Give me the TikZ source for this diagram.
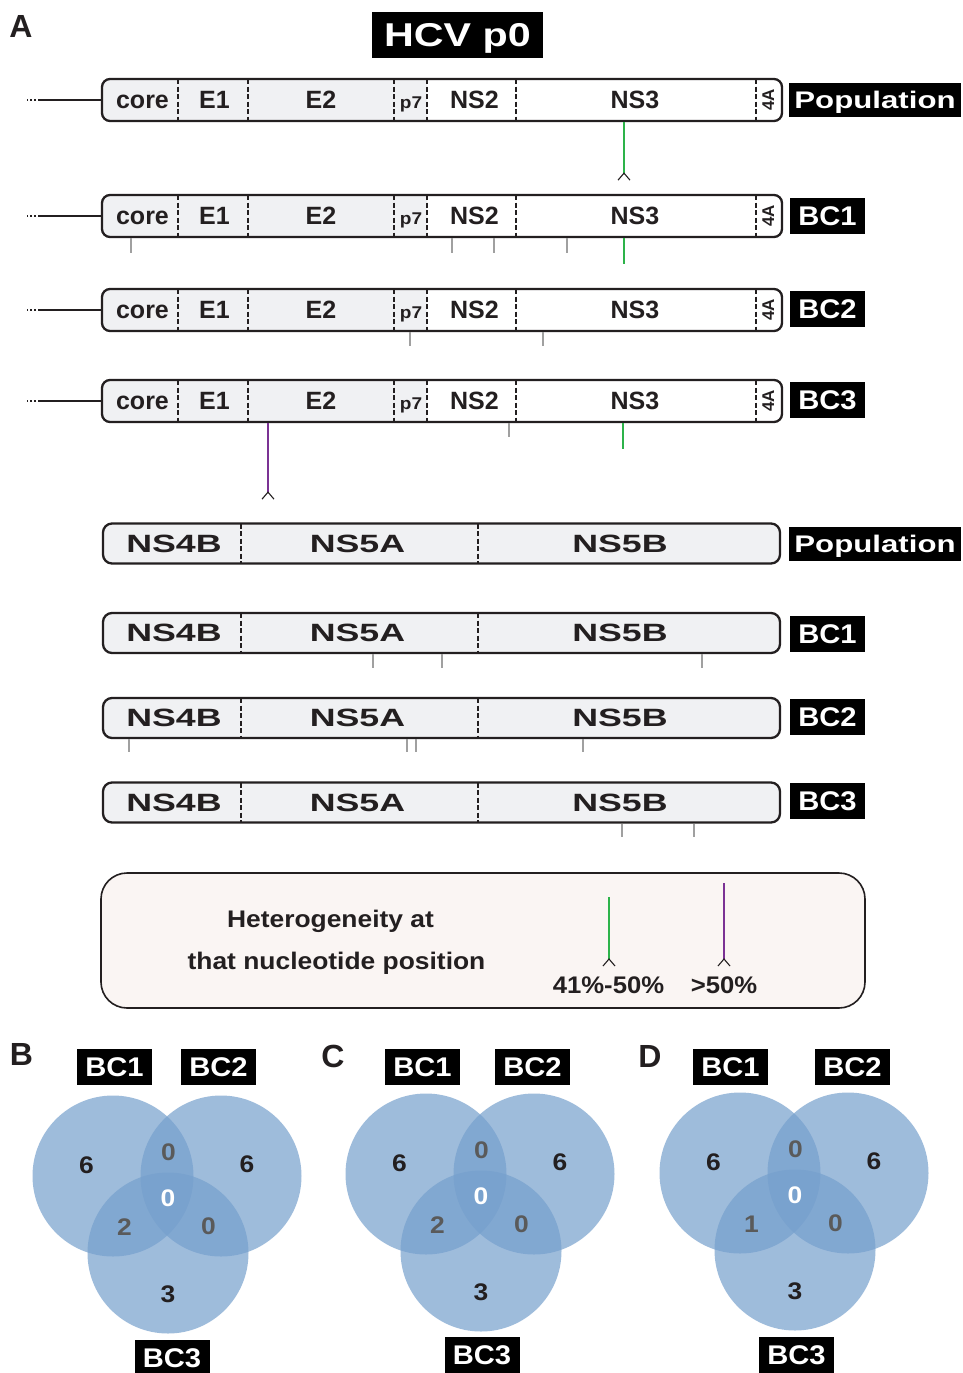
\documentclass[tikz,border=0pt]{standalone}
\usepackage{fontspec}
\setmainfont{Liberation Sans}
\usepackage{graphicx}

\definecolor{ink}{HTML}{231F20}
\definecolor{barfill}{HTML}{F0F1F3}
\definecolor{legfill}{HTML}{FAF5F3}
\definecolor{tickgray}{HTML}{A0A0A0}
\definecolor{hetgreen}{HTML}{2DB34A}
\definecolor{hetpurple}{HTML}{7B3294}
\definecolor{vennblue}{RGB}{118,160,205}
\definecolor{pairgray}{HTML}{5A5A5A}

% bold text at a given size, and horizontal stretch
\newcommand{\fs}[1]{\fontsize{#1pt}{#1pt}\selectfont\bfseries}
\newcommand{\hs}[2]{\scalebox{#1}[1]{#2}}

% a short mark hanging below a bar: bar, x, length, style, end name
\newcommand{\snv}[5]{%
  \coordinate (#5-x) at (#2,0);
  \draw[#4] (#1.south -| #5-x) -- ++(0,#3) coordinate (#5);}
% the small open chevron at the end of a long mark
\newcommand{\chevron}[1]{\draw[chev] (#1) ++(-6,7) -- (#1) -- ++(6,7);}

% genome bar, structural part (core ... 4A)
\newcommand{\toprow}[2]{%
  \fill[white, rounded corners=8pt] (102,#2-21) rectangle (782,#2+21);
  \begin{scope}
    \clip (98,#2-25) rectangle (427,#2+25);
    \fill[barfill, rounded corners=8pt] (102,#2-21) rectangle (782,#2+21);
  \end{scope}
  \foreach \dx in {178,248,394,427,516,756}
    \draw[divider] (\dx,#2-21) -- (\dx,#2+21);
  \node[bar, minimum width=680pt, minimum height=42pt] (#1) at (442,#2) {};
  \coordinate (#1-a) at (40,#2);
  \coordinate (#1-b) at (27,#2);
  \draw[lead] (#1.west) -- (#1-a);
  \draw[leaddots] (#1-a) -- (#1-b);
  \node[t25] (#1-core) at (142.5,#2) {core};
  \node[t25] (#1-e1) at (214.5,#2) {E1};
  \node[t25] (#1-e2) at (321,#2) {E2};
  \node[t17] (#1-p7) at (411,#2+2) {\hs{1.12}{p7}};
  \node[t25] (#1-ns2) at (474.5,#2) {NS2};
  \node[t25] (#1-ns3) at (635,#2) {NS3};
  \node[t17, rotate=90] (#1-4a) at (768,#2) {4A};}

% genome bar, non-structural part (NS4B ... NS5B)
\newcommand{\botrow}[2]{%
  \node[bar, fill=barfill, rounded corners=9pt, minimum width=677pt, minimum height=40pt] (#1) at (441.5,#2) {};
  \foreach \dx in {241,478}
    \draw[divider] (\dx,#2-20) -- (\dx,#2+20);
  \node[t25] (#1-4b) at (174,#2) {\hs{1.43}{NS4B}};
  \node[t25] (#1-5a) at (357.5,#2) {\hs{1.43}{NS5A}};
  \node[t25] (#1-5b) at (620,#2) {\hs{1.43}{NS5B}};}

% three-set Venn diagram: prefix, shift x, shift y, BC1/BC3 overlap
\newcommand{\venn}[4]{%
  \begin{scope}[shift={(#2,#3)}]
    \node[vcirc] (#1-c1) at (113,1176) {};
    \node[vcirc] (#1-c2) at (221,1176) {};
    \node[vcirc] (#1-c3) at (168,1253) {};
    \node[t24] (#1-n1) at (86.5,1165) {\hs{1.1}{6}};
    \node[t24, text=pairgray] (#1-n12) at (168.5,1151.5) {\hs{1.1}{0}};
    \node[t24] (#1-n2) at (247,1164) {\hs{1.1}{6}};
    \node[t24, text=white] (#1-n123) at (168,1198) {\hs{1.1}{0}};
    \node[t24, text=pairgray] (#1-n13) at (124.5,1226.5) {\hs{1.1}{#4}};
    \node[t24, text=pairgray] (#1-n23) at (208.5,1225.5) {\hs{1.1}{0}};
    \node[t24] (#1-n3) at (168,1293.5) {\hs{1.1}{3}};
  \end{scope}}

\begin{document}
\begin{tikzpicture}[x=1pt, y=-1pt,
  txtbase/.style={inner sep=0pt, outer sep=0pt, text depth=0pt, text=ink},
  t15/.style={txtbase, font=\fs{15}, text height=10.7pt},
  t17/.style={txtbase, font=\fs{17}, text height=12.2pt},
  t24/.style={txtbase, font=\fs{24}, text height=17.2pt},
  t25/.style={txtbase, font=\fs{25}, text height=17.9pt},
  t32/.style={txtbase, font=\fs{32}, text height=22.9pt},
  tag/.style={fill=black, text=white, inner sep=0pt, text depth=0pt,
    text height=19.3pt, font=\fs{27}, minimum width=75pt, minimum height=36pt},
  poptag/.style={tag, font=\fs{24}, text height=17.2pt, minimum width=172pt, minimum height=34pt},
  bar/.style={draw=ink, line width=2.3pt, rounded corners=8pt, inner sep=0pt},
  divider/.style={draw=ink, line width=1.8pt, dash pattern=on 5pt off 2.5pt},
  lead/.style={draw=ink, line width=2.5pt},
  leaddots/.style={draw=ink, line width=2.5pt, dash pattern=on 2pt off 2pt},
  snvtick/.style={draw=tickgray, line width=2.8pt},
  hgline/.style={draw=hetgreen, line width=2.5pt},
  hpline/.style={draw=hetpurple, line width=2.5pt},
  chev/.style={draw=ink, line width=1.1pt},
  vcirc/.style={circle, fill=vennblue, fill opacity=0.7, minimum size=161pt, inner sep=0pt},
]
\fill[white] (0,0) rectangle (962,1373);
\useasboundingbox (0,0) rectangle (962,1373);

% ---------- panel A ----------
\node[t32] (pA) at (21,26) {A};
\node[tag, font=\fs{33}, text height=23.6pt, minimum width=171pt, minimum height=46pt] (title) at (457.5,35) {\hs{1.25}{HCV p0}};

\toprow{r0}{100}
\toprow{r1}{216}
\toprow{r2}{310}
\toprow{r3}{401}

\node[poptag] (r0-tag) at (875,100) {\hs{1.3}{Population}};
\node[tag] (r1-tag) at (827.5,216) {\hs{1.08}{BC1}};
\node[tag] (r2-tag) at (827.5,309) {\hs{1.08}{BC2}};
\node[tag] (r3-tag) at (827.5,400) {\hs{1.08}{BC3}};

\snv{r0}{624}{51}{hgline}{r0m1}
\chevron{r0m1}

\snv{r1}{131}{15}{snvtick}{r1m1}
\snv{r1}{452}{15}{snvtick}{r1m2}
\snv{r1}{494}{15}{snvtick}{r1m3}
\snv{r1}{567}{15}{snvtick}{r1m4}
\snv{r1}{624}{26}{hgline}{r1m5}

\snv{r2}{410}{14}{snvtick}{r2m1}
\snv{r2}{543}{14}{snvtick}{r2m2}

\snv{r3}{268}{69}{hpline}{r3m1}
\chevron{r3m1}
\snv{r3}{509}{14}{snvtick}{r3m2}
\snv{r3}{623}{26}{hgline}{r3m3}

\botrow{b0}{543.5}
\botrow{b1}{633}
\botrow{b2}{718}
\botrow{b3}{802.5}

\node[poptag] (b0-tag) at (875,544) {\hs{1.3}{Population}};
\node[tag] (b1-tag) at (827.5,634) {\hs{1.08}{BC1}};
\node[tag] (b2-tag) at (827.5,717) {\hs{1.08}{BC2}};
\node[tag] (b3-tag) at (827.5,801) {\hs{1.08}{BC3}};

\snv{b1}{373}{14}{snvtick}{b1m1}
\snv{b1}{442}{14}{snvtick}{b1m2}
\snv{b1}{702}{14}{snvtick}{b1m3}

\snv{b2}{129}{13}{snvtick}{b2m1}
\snv{b2}{407}{13}{snvtick}{b2m2}
\snv{b2}{416}{13}{snvtick}{b2m3}
\snv{b2}{583}{13}{snvtick}{b2m4}

\snv{b3}{622}{13}{snvtick}{b3m1}
\snv{b3}{694}{13}{snvtick}{b3m2}

% legend
\node[draw=ink, line width=1.6pt, fill=legfill, rounded corners=26pt,
  minimum width=764pt, minimum height=135pt, inner sep=0pt] (legend) at (483,940.5) {};
\node[t24] (leg1) at (330.5,918.5) {\hs{1.1}{Heterogeneity at}};
\node[t24] (leg2) at (336.5,961) {\hs{1.1}{that nucleotide position}};
\coordinate (lgA) at (609,897);
\coordinate (lgB) at (609,959);
\draw[hgline] (lgA) -- (lgB);
\chevron{lgB}
\coordinate (lpA) at (724,883);
\coordinate (lpB) at (724,959);
\draw[hpline] (lpA) -- (lpB);
\chevron{lpB}
\node[t24] (leg3) at (608.5,985) {\hs{1.07}{41\%-50\%}};
\node[t24] (leg4) at (724,985) {\hs{1.07}{>50\%}};

% ---------- panels B, C, D ----------
\node[t32] (pB) at (21.5,1054.5) {B};
\venn{vB}{0}{0}{2}
\node[tag] (vB-t1) at (114.5,1067) {\hs{1.08}{BC1}};
\node[tag] (vB-t2) at (218.5,1067) {\hs{1.08}{BC2}};
\node[tag] (vB-t3) at (172,1358) {\hs{1.08}{BC3}};

\node[t32] (pC) at (333,1056) {C};
\venn{vC}{313}{-2}{2}
\node[tag] (vC-t1) at (422.5,1067) {\hs{1.08}{BC1}};
\node[tag] (vC-t2) at (532.5,1067) {\hs{1.08}{BC2}};
\node[tag] (vC-t3) at (482,1355) {\hs{1.08}{BC3}};

\node[t32] (pD) at (650,1056) {D};
\venn{vD}{627}{-3}{1}
\node[tag] (vD-t1) at (730.5,1066.5) {\hs{1.08}{BC1}};
\node[tag] (vD-t2) at (852.5,1066.5) {\hs{1.08}{BC2}};
\node[tag] (vD-t3) at (796.5,1355) {\hs{1.08}{BC3}};
\end{tikzpicture}
\end{document}
